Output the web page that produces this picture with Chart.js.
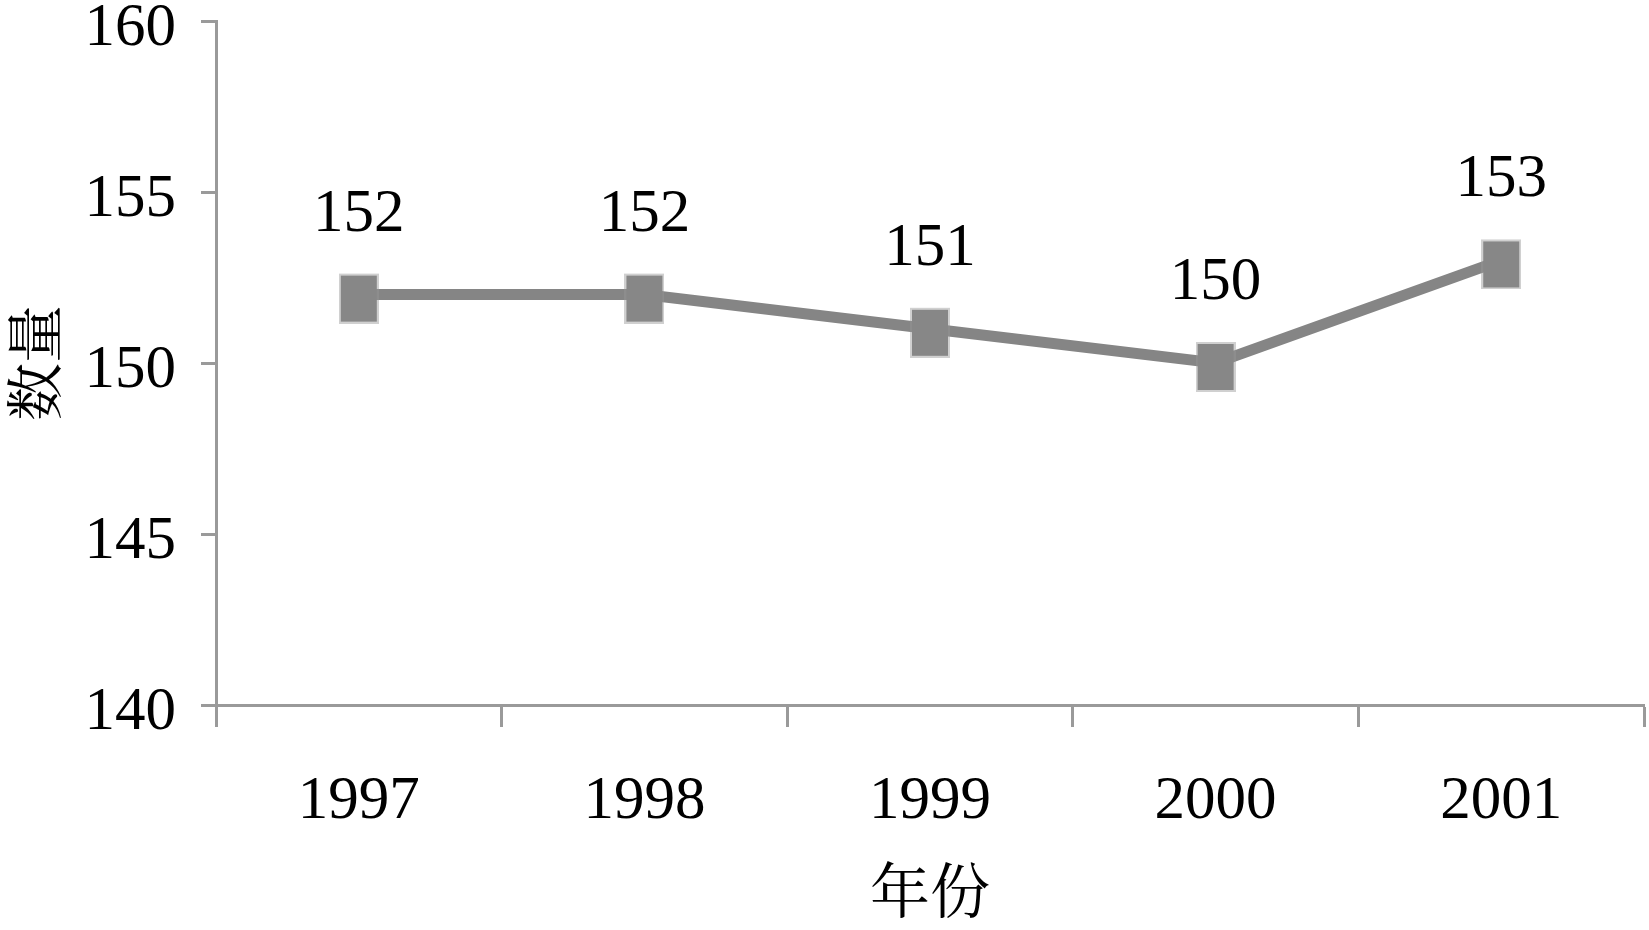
<!DOCTYPE html>
<html>
<head>
<meta charset="utf-8">
<script src="https://cdn.jsdelivr.net/npm/chart.js@4"></script>
<style>
    html, body { margin: 0; padding: 0; background: #fff; }
    #wrap { width: 1649px; height: 930px; }
</style>
</head>
<body>
<div id="wrap"><canvas id="lineChart" width="1649" height="930"></canvas></div>
<script>
// Chart data
const years = ['1997', '1998', '1999', '2000', '2001'];
const counts = [152, 152, 151, 150, 153];
const yTicks = [140, 145, 150, 155, 160];

const serif = '"Liberation Serif", "Times New Roman", "Noto Serif CJK SC", "Noto Sans CJK SC", serif';
const axisColor = '#9a9a9a';
const lineColor = '#858585';

// square marker, drawn slightly below the value like the original
function makeMarker() {
    const c = document.createElement('canvas');
    c.width = 40;
    c.height = 58;
    const g = c.getContext('2d');
    g.fillStyle = 'rgba(150,150,150,0.45)';
    g.fillRect(0, 8, 40, 50);
    g.fillStyle = '#878787';
    g.fillRect(2, 10, 36, 46);
    return c;
}

// value labels above each point
const valueLabels = {
    id: 'valueLabels',
    afterDatasetsDraw(chart) {
        const ctx = chart.ctx;
        const meta = chart.getDatasetMeta(0);
        ctx.save();
        ctx.font = '61px ' + serif;
        ctx.fillStyle = '#000';
        ctx.textAlign = 'center';
        ctx.textBaseline = 'middle';
        meta.data.forEach((pt, i) => {
            ctx.fillText(String(counts[i]), pt.x, pt.y - 80);
        });
        ctx.restore();
    }
};

document.addEventListener('DOMContentLoaded', function() {
    const ctx = document.getElementById('lineChart').getContext('2d');
    new Chart(ctx, {
        type: 'line',
        data: {
            labels: years,
            datasets: [{
                data: counts,
                borderColor: lineColor,
                borderWidth: 11,
                pointStyle: makeMarker(),
                pointRadius: 20,
                tension: 0,
                fill: false
            }]
        },
        plugins: [valueLabels],
        options: {
            responsive: false,
            animation: false,
            layout: { autoPadding: false, padding: { top: 21, right: 5, left: 0, bottom: 0 } },
            plugins: {
                legend: { display: false },
                tooltip: { enabled: false }
            },
            scales: {
                x: {
                    offset: true,
                    grid: {
                        offset: true,
                        drawOnChartArea: false,
                        tickLength: 22,
                        tickColor: axisColor,
                        tickWidth: 3
                    },
                    border: { color: axisColor, width: 3 },
                    ticks: {
                        color: '#000',
                        font: { family: serif, size: 61 },
                        padding: 38,
                        maxRotation: 0
                    },
                    title: {
                        display: true,
                        text: '年份',
                        color: '#000',
                        font: { family: serif, size: 60, lineHeight: 1.1 },
                        padding: 0
                    },
                    afterFit(scale) {
                        scale.height = 225;
                        scale.paddingLeft = 0;
                        scale.paddingRight = 0;
                    }
                },
                y: {
                    min: 140,
                    max: 160,
                    afterBuildTicks(scale) {
                        scale.ticks = yTicks.map(v => ({ value: v }));
                    },
                    grid: {
                        drawOnChartArea: false,
                        tickLength: 15,
                        tickColor: axisColor,
                        tickWidth: 3
                    },
                    border: { color: axisColor, width: 3 },
                    ticks: {
                        color: '#000',
                        font: { family: serif, size: 61 },
                        padding: 25,
                        labelOffset: 8
                    },
                    title: {
                        display: true,
                        text: '数量',
                        color: '#000',
                        font: { family: serif, size: 58, lineHeight: 1.0 },
                        padding: { top: 12, bottom: 0 }
                    },
                    afterFit(scale) {
                        scale.width = 216;
                        scale.paddingTop = 0;
                        scale.paddingBottom = 0;
                    }
                }
            }
        }
    });
});
</script>
</body>
</html>
